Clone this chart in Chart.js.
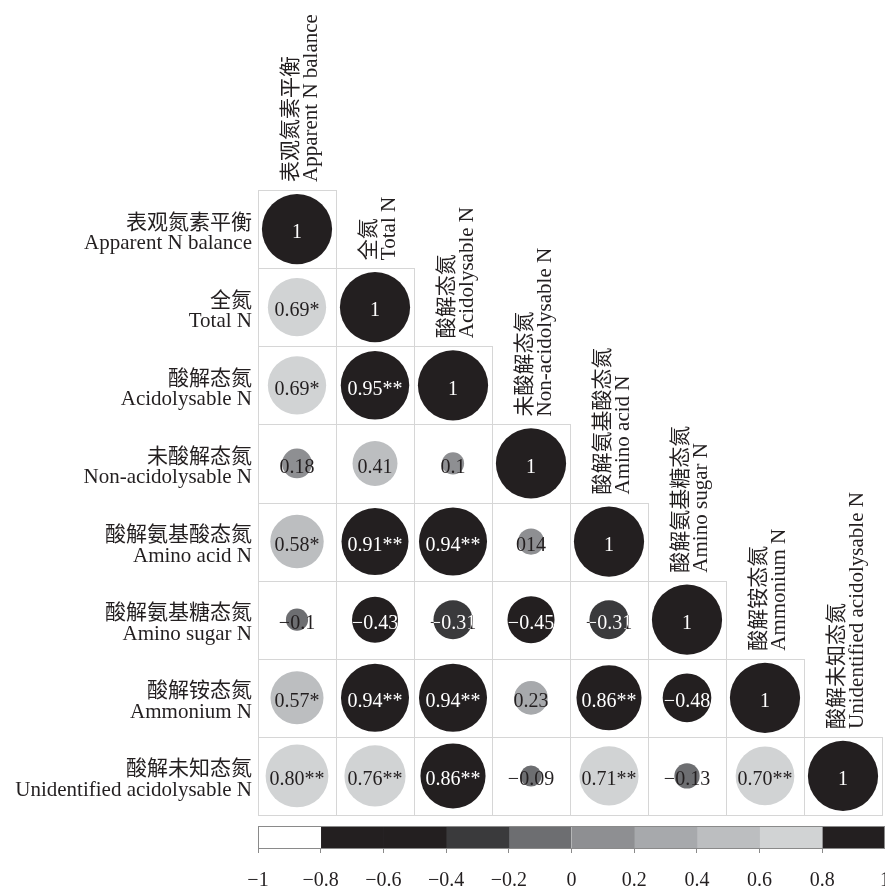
<!DOCTYPE html>
<html>
<head>
<meta charset="utf-8">
<script src="https://cdn.jsdelivr.net/npm/chart.js@4/dist/chart.umd.min.js"></script>
<style>
  html, body { margin: 0; padding: 0; background: #fff; overflow: hidden; }
  #wrap { position: relative; width: 885px; height: 889px; overflow: hidden; }
  #matrix { position: absolute; left: 0; top: 0; }
  #scaleBar { position: absolute; left: 0; top: 820px; }
</style>
</head>
<body>
<div id="wrap">
  <canvas id="matrix" width="885" height="889"></canvas>
  <canvas id="scaleBar" width="920" height="73"></canvas>
</div>
<script>
// Variable names (Chinese / English), same order for rows and columns
const namesCn = ['表观氮素平衡', '全氮', '酸解态氮', '未酸解态氮', '酸解氨基酸态氮', '酸解氨基糖态氮', '酸解铵态氮', '酸解未知态氮'];
const namesEn = ['Apparent N balance', 'Total N', 'Acidolysable N', 'Non-acidolysable N', 'Amino acid N', 'Amino sugar N', 'Ammonium N', 'Unidentified acidolysable N'];

// Lower-triangle correlation coefficients (row i, columns 0..i)
const corrValues = [
  [1],
  [0.69, 1],
  [0.69, 0.95, 1],
  [0.18, 0.41, 0.10, 1],
  [0.58, 0.91, 0.94, 0.14, 1],
  [-0.10, -0.43, -0.31, -0.45, -0.31, 1],
  [0.57, 0.94, 0.94, 0.23, 0.86, -0.48, 1],
  [0.80, 0.76, 0.86, -0.09, 0.71, -0.13, 0.70, 1]
];

// Printed text in each cell (with significance marks)
const corrLabels = [
  ['1'],
  ['0.69*', '1'],
  ['0.69*', '0.95**', '1'],
  ['0.18', '0.41', '0.1', '1'],
  ['0.58*', '0.91**', '0.94**', '014', '1'],
  ['−0.1', '−0.43', '−0.31', '−0.45', '−0.31', '1'],
  ['0.57*', '0.94**', '0.94**', '0.23', '0.86**', '−0.48', '1'],
  ['0.80**', '0.76**', '0.86**', '−0.09', '0.71**', '−0.13', '0.70**', '1']
];

// Discrete colour scale
const binEdges = [-1, -0.8, -0.6, -0.4, -0.2, 0, 0.2, 0.4, 0.6, 0.8, 1];
const binColors = ['#ffffff', '#231f20', '#231f20', '#3a3a3c', '#6d6e71', '#8e8f92', '#a7a9ac', '#bcbec0', '#d1d3d4', '#231f20'];
const scaleTickLabels = ['−1', '−0.8', '−0.6', '−0.4', '−0.2', '0', '0.2', '0.4', '0.6', '0.8', '1'];

const INK = '#231f20';
const DARK_BINS = [1, 2, 3, 9];

function binOf(v) {
  for (let i = 0; i < binColors.length; i++) {
    if (v <= binEdges[i + 1] + 1e-9) return i;
  }
  return binColors.length - 1;
}

const points = [];
corrValues.forEach((row, i) => row.forEach((v, j) => {
  points.push({ x: j + 1, y: i + 1, v: v, t: corrLabels[i][j] });
}));

const LABEL_FONT = '21px "Liberation Serif", "Noto Sans CJK SC", serif';
const VALUE_FONT = '20px "Liberation Serif", "Noto Sans CJK SC", serif';

// Cell borders, value texts and axis names
const matrixDecor = {
  id: 'matrixDecor',
  beforeDatasetsDraw(chart) {
    const { ctx, scales: { x, y } } = chart;
    ctx.save();
    ctx.strokeStyle = '#d6d6d6';
    ctx.lineWidth = 1;
    corrValues.forEach((row, i) => row.forEach((v, j) => {
      const x0 = Math.round(x.getPixelForValue(j + 0.5)) + 0.5;
      const x1 = Math.round(x.getPixelForValue(j + 1.5)) + 0.5;
      const y0 = Math.round(y.getPixelForValue(i + 0.5)) + 0.5;
      const y1 = Math.round(y.getPixelForValue(i + 1.5)) + 0.5;
      ctx.strokeRect(x0, y0, x1 - x0, y1 - y0);
    }));
    ctx.restore();
  },
  afterDatasetsDraw(chart) {
    const { ctx, scales: { x, y } } = chart;
    const meta = chart.getDatasetMeta(0);

    // value texts: dark outside the circle, white where a dark circle lies beneath
    ctx.save();
    ctx.font = VALUE_FONT;
    ctx.textAlign = 'center';
    ctx.textBaseline = 'middle';
    meta.data.forEach((el, k) => {
      const p = points[k];
      const tx = el.x, ty = el.y + 4;
      ctx.fillStyle = INK;
      ctx.fillText(p.t, tx, ty);
      if (DARK_BINS.includes(binOf(p.v))) {
        ctx.save();
        ctx.beginPath();
        ctx.arc(el.x, el.y, el.options.radius, 0, Math.PI * 2);
        ctx.clip();
        ctx.fillStyle = '#ffffff';
        ctx.fillText(p.t, tx, ty);
        ctx.restore();
      }
    });
    ctx.restore();

    // row names on the left
    ctx.save();
    ctx.font = LABEL_FONT;
    ctx.fillStyle = INK;
    ctx.textAlign = 'right';
    ctx.textBaseline = 'alphabetic';
    const rightEdge = x.left - 6;
    namesCn.forEach((cn, i) => {
      const cy = y.getPixelForValue(i + 1);
      ctx.fillText(cn, rightEdge, cy - 0.5);
      ctx.fillText(namesEn[i], rightEdge, cy + 20);
    });

    // column names, vertical, above each diagonal cell
    ctx.textAlign = 'left';
    namesCn.forEach((cn, j) => {
      const cx = x.getPixelForValue(j + 1);
      const top = y.getPixelForValue(j + 0.5);
      ctx.save();
      ctx.translate(cx, top - 8);
      ctx.rotate(-Math.PI / 2);
      ctx.fillText(cn, 0, -0.5);
      ctx.fillText(namesEn[j], 0, 20);
      ctx.restore();
    });
    ctx.restore();
  }
};

// circle area proportional to |r|, sized from the cell width on the x scale
function circleRadius(c) {
  if (!c.raw) return 0;
  const xs = c.chart.scales.x;
  const cell = Math.abs(xs.getPixelForValue(1) - xs.getPixelForValue(0));
  return cell * 0.45 * Math.sqrt(Math.abs(c.raw.v));
}

new Chart(document.getElementById('matrix'), {
  type: 'scatter',
  data: {
    datasets: [{
      data: points,
      showLine: false,
      clip: false,
      pointBorderWidth: 0,
      pointHoverBorderWidth: 0,
      pointBackgroundColor: (c) => c.raw ? binColors[binOf(c.raw.v)] : INK,
      pointRadius: circleRadius,
      pointHoverRadius: circleRadius
    }]
  },
  options: {
    responsive: false,
    animation: false,
    events: [],
    layout: { padding: { left: 258, right: 3, top: 190, bottom: 74 } },
    scales: {
      x: { type: 'linear', min: 0.5, max: 8.5, display: false },
      y: { type: 'linear', min: 0.5, max: 8.5, reverse: true, display: false }
    },
    plugins: { legend: { display: false }, tooltip: { enabled: false } }
  },
  plugins: [matrixDecor]
});

// Colour key outline
const keyOutline = {
  id: 'keyOutline',
  afterDatasetsDraw(chart) {
    const { ctx, chartArea: a } = chart;
    ctx.save();
    ctx.strokeStyle = '#8a8a8a';
    ctx.lineWidth = 1;
    ctx.strokeRect(Math.round(a.left) + 0.5, Math.round(a.top) + 0.5,
                   Math.round(a.right - a.left) - 1, Math.round(a.bottom - a.top) - 1);
    ctx.restore();
  }
};

new Chart(document.getElementById('scaleBar'), {
  type: 'bar',
  data: {
    labels: ['r'],
    datasets: binColors.map((c, i) => ({
      data: [[binEdges[i], binEdges[i + 1]]],
      backgroundColor: c,
      borderWidth: 0,
      grouped: false,
      barPercentage: 1,
      categoryPercentage: 1
    }))
  },
  options: {
    indexAxis: 'y',
    responsive: false,
    animation: false,
    events: [],
    layout: { padding: { left: 258, right: 35, top: 6, bottom: 0 } },
    scales: {
      x: {
        type: 'linear', min: -1, max: 1,
        afterFit: (s) => { s.height = 44; },
        ticks: {
          stepSize: 0.2, padding: 16, color: INK, maxRotation: 0, autoSkip: false,
          font: { family: '"Liberation Serif", serif', size: 20 },
          callback: (v, i) => scaleTickLabels[i]
        },
        grid: { drawOnChartArea: false, drawTicks: true, tickLength: 4, color: '#8a8a8a' },
        border: { display: false }
      },
      y: { display: false }
    },
    plugins: { legend: { display: false }, tooltip: { enabled: false } }
  },
  plugins: [keyOutline]
});
</script>
</body>
</html>
